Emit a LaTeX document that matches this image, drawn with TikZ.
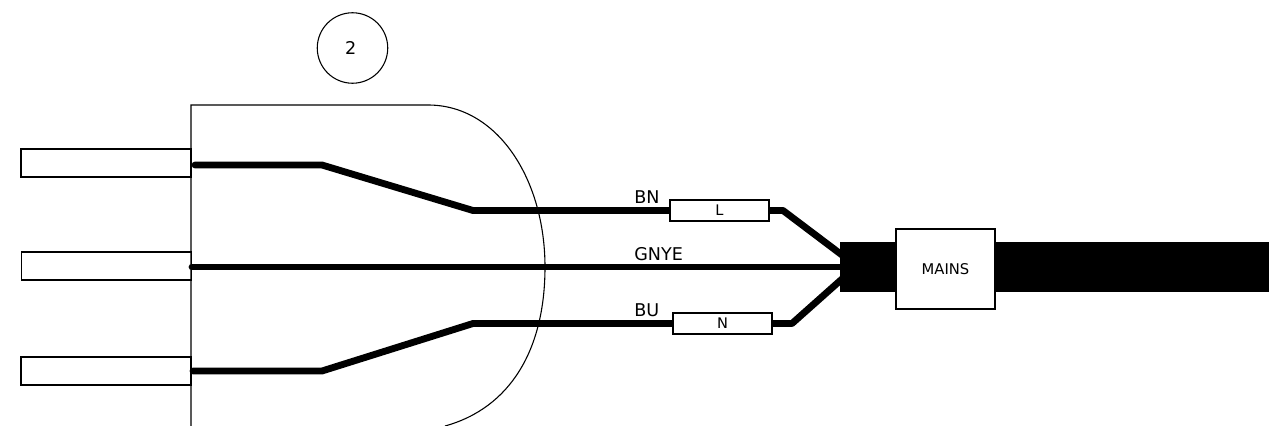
\documentclass[tikz,border=0pt]{standalone}
\usepackage{fontspec}
\usetikzlibrary{backgrounds}
\setmainfont{DejaVu Sans}
\tikzset{
  wire/.style={line width=3.9pt,line cap=round,line join=round},
  thinline/.style={line width=0.62pt},
  fusebox/.style={rectangle,draw=black,thinline,fill=white,minimum width=1.98cm,minimum height=0.42cm,inner sep=0pt,font=\fontsize{8.3}{10}\selectfont},
  pinbox/.style={rectangle,draw=black,thinline,minimum width=3.4cm,minimum height=0.56cm,inner sep=0pt},
  wirelabel/.style={anchor=base west,inner sep=0pt,font=\fontsize{10}{12}\selectfont}
}
\begin{document}
\begin{tikzpicture}[x=0.02cm,y=-0.02cm]
\useasboundingbox (0,0) rectangle (1269,426);

% pins
\node[pinbox] (pinL) at (106,163) {};
\node[pinbox] (pinE) at (106.5,266) {};
\node[pinbox] (pinN) at (106,371) {};

% plug outline
\coordinate (bodyBL) at (191,426);
\coordinate (bodyTL) at (191,105);
\coordinate (bodyTR) at (428,105);
\coordinate (bodyR) at (545,267);
\coordinate (bodyBR) at (445,426);
\draw[thinline] (bodyBL) -- (bodyTL) -- (bodyTR)
  .. controls (498,105) and (545,180) .. (bodyR)
  .. controls (545,350) and (510,408) .. (bodyBR);

% cable and fuses
\node[rectangle,fill=black,minimum width=8.58cm,minimum height=1cm,inner sep=0pt] (cable) at (1054.5,267) {};
\node[fusebox] (fuseL) at (719.5,210.5) {L};
\node[fusebox] (fuseN) at (722.5,323.5) {N};
\node[rectangle,draw=black,thinline,fill=white,minimum width=1.98cm,minimum height=1.6cm,inner sep=0pt,font=\fontsize{8.4}{10}\selectfont] (mains) at (945.5,269) {MAINS};

% wires
\coordinate (startL) at (195,165);
\coordinate (bendLa) at (322,165);
\coordinate (bendLb) at (473,210.5);
\coordinate (bendLc) at (783,210.5);
\coordinate (endL) at (842,255);
\coordinate (startE) at (192,267);
\coordinate (endE) at (842,267);
\coordinate (startN) at (193,371);
\coordinate (bendNa) at (322,371);
\coordinate (bendNb) at (473,323.5);
\coordinate (bendNc) at (792,323.5);
\coordinate (endN) at (842,279);
\begin{pgfonlayer}{background}
\draw[wire] (startL) -- (bendLa) -- (bendLb) -- (fuseL.west);
\draw[wire] (fuseL.east) -- (bendLc) -- (endL);
\draw[wire] (startE) -- (endE);
\draw[wire] (startN) -- (bendNa) -- (bendNb) -- (fuseN.west);
\draw[wire] (fuseN.east) -- (bendNc) -- (endN);
\end{pgfonlayer}

% labels
\node[wirelabel] (labelBN) at (634,203) {BN};
\node[wirelabel] (labelGNYE) at (634,260) {GNYE};
\node[wirelabel] (labelBU) at (634,316) {BU};

\node[circle,draw=black,thinline,minimum size=1.41cm,inner sep=0pt,font=\fontsize{10}{12}\selectfont] (num) at (352.5,48) {\hspace{-2pt}2};
\end{tikzpicture}
\end{document}
